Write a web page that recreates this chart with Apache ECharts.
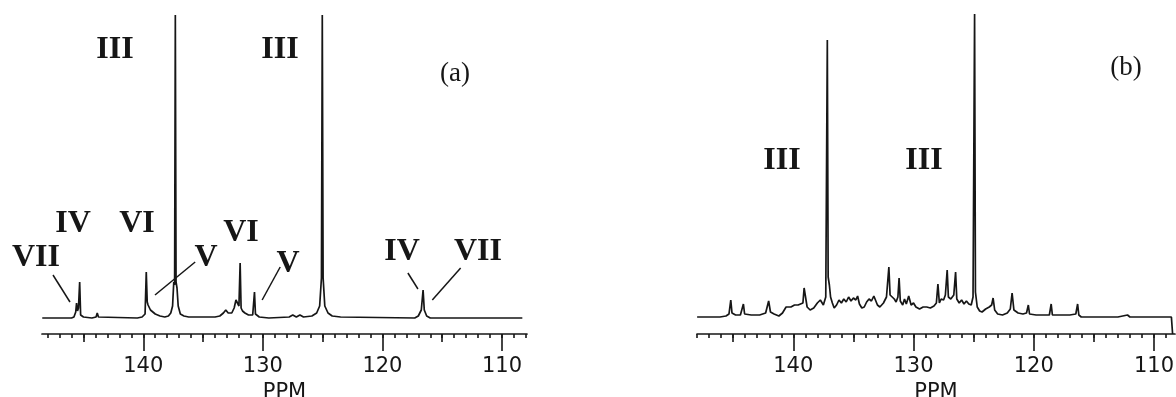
<!DOCTYPE html>
<html>
<head>
<meta charset="utf-8">
<script src="https://cdn.jsdelivr.net/npm/echarts@6.0.0/dist/echarts.min.js"></script>
<style>
  html, body { margin: 0; padding: 0; background: #fff; }
  #chart { width: 1176px; height: 397px; }
</style>
</head>
<body>
<div id="chart"></div>
<script>
// tick positions (ppm)
const majorTicks = [110, 120, 130, 140];
const mediumTicks = [115, 125, 135, 145];
const minorTicks = [108, 109, 110, 111, 112, 113, 114, 115, 116, 117, 118, 119, 120, 121, 122, 123, 124, 125, 126, 127, 128,
  129, 130, 131, 132, 133, 134, 135, 136, 137, 138, 139, 140, 141, 142, 143, 144, 145, 146, 147, 148];

// spectrum (a): [ppm, intensity]
const specA = [
  [148.45, 0], [146.0, 0], [145.8, 1], [145.65, 6], [145.58, 15], [145.5, 7], [145.42, 10], [145.32, 36], [145.24, 3],
  [145.0, 1], [144.3, 0], [143.95, 1], [143.85, 5], [143.75, 1], [140.5, 0], [140.1, 1], [139.85, 4], [139.75, 46],
  [139.67, 16], [139.6, 13], [139.5, 11], [139.4, 8], [139.25, 6], [139.0, 4], [138.6, 2], [138.2, 1], [137.9, 2],
  [137.7, 5], [137.55, 12], [137.45, 36], [137.38, 33], [137.32, 303], [137.26, 36], [137.18, 30], [137.08, 12],
  [136.9, 4], [136.6, 2], [136.2, 1], [134.0, 1], [133.6, 2], [133.3, 5], [133.1, 8], [132.9, 5], [132.6, 5],
  [132.4, 10], [132.25, 18], [132.1, 16], [132.0, 12], [131.9, 55], [131.82, 10], [131.7, 7], [131.5, 5], [131.2, 3],
  [130.85, 3], [130.7, 26], [130.62, 4], [130.3, 1], [129.5, 0], [127.8, 1], [127.5, 3], [127.2, 1], [126.9, 3],
  [126.6, 1], [125.9, 2], [125.5, 5], [125.25, 12], [125.1, 40], [125.03, 303], [124.96, 40], [124.82, 12],
  [124.55, 5], [124.2, 2], [123.5, 1], [117.3, 0], [117.0, 2], [116.75, 8], [116.6, 28], [116.5, 8], [116.3, 2],
  [116.0, 0], [108.3, 0]
];

// spectrum (b): [ppm, intensity]
const specB = [
  [148.0, 0], [146.1, 0], [145.6, 1], [145.35, 3], [145.2, 17], [145.1, 4], [144.8, 2], [144.4, 2], [144.15, 13],
  [144.05, 3], [143.5, 2], [142.8, 2], [142.3, 4], [142.05, 16], [141.9, 5], [141.6, 3], [141.2, 1], [140.9, 4],
  [140.6, 10], [140.2, 10], [139.9, 12], [139.6, 12], [139.2, 14], [139.1, 29], [138.95, 29], [138.85, 10],
  [138.6, 7], [138.3, 9], [138.0, 14], [137.75, 17], [137.5, 12], [137.3, 20], [137.17, 277], [137.1, 40],
  [137.0, 32], [136.9, 20], [136.75, 14], [136.6, 9], [136.4, 12], [136.2, 17], [136.0, 14], [135.8, 18],
  [135.6, 15], [135.4, 20], [135.2, 16], [135.0, 19], [134.8, 17], [134.65, 21], [134.5, 13], [134.3, 9],
  [134.1, 10], [133.9, 15], [133.7, 18], [133.5, 16], [133.3, 21], [133.15, 20], [133.0, 12], [132.8, 10],
  [132.5, 14], [132.25, 20], [132.05, 50], [131.95, 22], [131.8, 24], [131.6, 18], [131.45, 15], [131.3, 20],
  [131.2, 39], [131.1, 16], [130.9, 12], [130.75, 18], [130.6, 13], [130.4, 21], [130.2, 12], [130.0, 14],
  [129.8, 10], [129.5, 8], [129.2, 10], [128.9, 10], [128.6, 9], [128.3, 11], [128.1, 14], [127.97, 33],
  [127.85, 14], [127.7, 18], [127.5, 17], [127.35, 22], [127.2, 47], [127.1, 20], [126.9, 18], [126.65, 22],
  [126.5, 45], [126.4, 18], [126.2, 14], [126.0, 17], [125.8, 13], [125.6, 16], [125.4, 13], [125.2, 12],
  [125.05, 20], [124.92, 303], [124.85, 25], [124.7, 10], [124.5, 6], [124.3, 5], [124.0, 8], [123.7, 10],
  [123.5, 12], [123.38, 19], [123.25, 7], [123.0, 3], [122.6, 2], [122.2, 4], [121.95, 8], [121.8, 24],
  [121.65, 7], [121.3, 4], [120.9, 3], [120.6, 4], [120.45, 12], [120.35, 3], [119.8, 2], [119.2, 2], [118.7, 2],
  [118.55, 13], [118.45, 2], [117.8, 2], [117.0, 2], [116.5, 3], [116.35, 13], [116.25, 2], [116.05, 0],
  [113.0, 0], [112.2, 2], [112.0, 0], [108.55, 0], [108.45, -17]
];

// leader lines in (a): [ppm1, int1, ppm2, int2]
const leadersA = [
  [147.55, 43, 146.13, 16],
  [139.02, 23, 135.66, 56],
  [130.06, 18, 128.55, 51],
  [117.87, 45, 117.03, 29],
  [115.83, 18, 113.46, 50]
];

const ink = '#161616';
const panels = [
  { left: 42, width: 485, min: 107.91, max: 148.47, yMin: -16, yMax: 318, data: specA, leaders: leadersA },
  { left: 697, width: 478, min: 108.25, max: 148.01, yMin: -17, yMax: 317, data: specB, leaders: [] }
];

const grid = [], xAxis = [], yAxis = [], series = [];
panels.forEach((p, pi) => {
  const tickSets = [
    { values: majorTicks, len: 17, main: true },
    { values: mediumTicks, len: 8 },
    { values: minorTicks, len: 4 }
  ];
  tickSets.forEach((t) => {
    const gi = grid.length;
    grid.push({
      left: p.left, top: 0, width: p.width, height: 334,
      containLabel: false, outerBoundsMode: 'none'
    });
    xAxis.push({
      type: 'value', gridIndex: gi, inverse: true, min: p.min, max: p.max, position: 'bottom',
      name: t.main ? 'PPM' : '', nameLocation: 'middle', nameGap: 41,
      nameTextStyle: { fontFamily: 'DejaVu Sans', fontSize: 21, color: ink },
      axisLine: { show: !!t.main, onZero: false, lineStyle: { color: ink, width: 1.7 } },
      axisTick: { show: true, customValues: t.values, length: t.len, lineStyle: { color: ink, width: 1.6 } },
      axisLabel: {
        show: !!t.main, customValues: t.values, margin: 22,
        fontFamily: 'DejaVu Sans', fontSize: 21, color: ink
      },
      splitLine: { show: false }
    });
    yAxis.push({ type: 'value', gridIndex: gi, min: p.yMin, max: p.yMax, show: false });
  });
  const ai = pi * 3;
  series.push({
    type: 'line', xAxisIndex: ai, yAxisIndex: ai, data: p.data,
    showSymbol: false, symbol: 'none', animation: false,
    lineStyle: { color: ink, width: 1.7 },
    markLine: {
      silent: true, symbol: ['none', 'none'], animation: false,
      label: { show: false },
      lineStyle: { color: ink, width: 1.5, type: 'solid' },
      data: p.leaders.map(l => [{ coord: [l[0], l[1]] }, { coord: [l[2], l[3]] }])
    }
  });
});

function label(text, x, y, size, bold) {
  return {
    type: 'text', x: x, y: y, silent: true,
    style: {
      text: text, fill: ink,
      font: (bold ? 'bold ' : '') + size + 'px "Liberation Serif", serif',
      align: 'center', verticalAlign: 'middle',
      textAlign: 'center', textVerticalAlign: 'middle'
    }
  };
}

const chart = echarts.init(document.getElementById('chart'));
chart.setOption({
  backgroundColor: '#fff',
  animation: false,
  grid: grid, xAxis: xAxis, yAxis: yAxis, series: series,
  graphic: [
    label('III', 115, 50, 32, true),
    label('III', 280, 50, 32, true),
    label('(a)', 455, 74, 27, false),
    label('IV', 73, 224, 32, true),
    label('VI', 137, 224, 32, true),
    label('VII', 36, 258, 32, true),
    label('V', 206, 258, 32, true),
    label('VI', 241, 233, 32, true),
    label('V', 288, 264, 32, true),
    label('IV', 402, 252, 32, true),
    label('VII', 478, 252, 32, true),
    label('III', 782, 161, 32, true),
    label('III', 924, 161, 32, true),
    label('(b)', 1126, 68, 27, false)
  ]
});
</script>
</body>
</html>
